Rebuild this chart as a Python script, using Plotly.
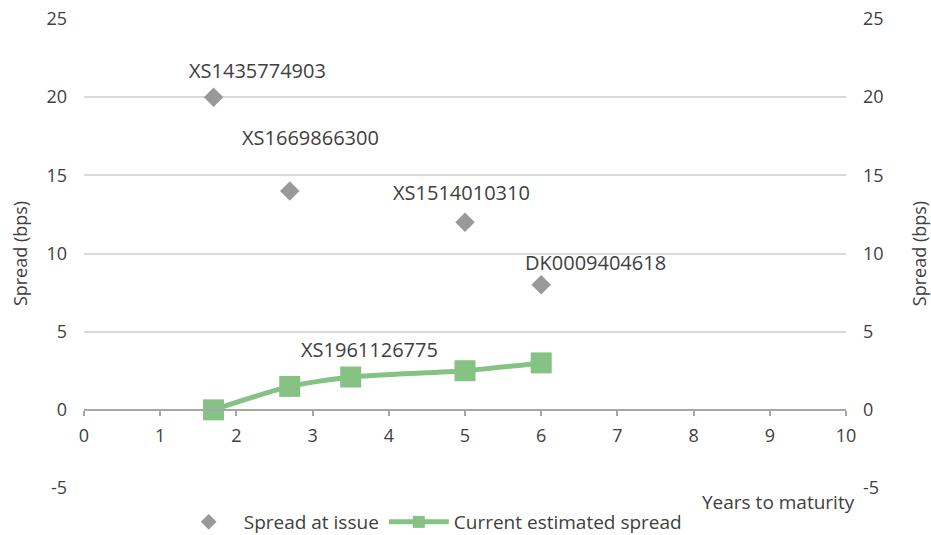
import plotly.graph_objects as go

# Data
issue_years = [1.7, 2.7, 5.0, 6.0]
issue_spread = [20, 14, 12, 8]
current_years = [1.7, 2.7, 3.5, 5.0, 6.0]
current_spread = [0, 1.5, 2.1, 2.5, 3.0]

label_text = ["XS1435774903", "XS1669866300", "XS1514010310", "DK0009404618", "XS1961126775"]
label_x = [2.28, 2.97, 4.96, 6.71, 3.75]
label_y = [21.7, 17.4, 13.9, 9.4, 3.84]

x_ticks = list(range(0, 11))
y_ticks = [-5, 0, 5, 10, 15, 20, 25]
y_tick_text = ["-5", "0", "5", "10", "15", "20", "25"]

FONT = "Open Sans"
TXT = "#404040"
FS = 18

fig = go.Figure()
fig.add_trace(go.Scatter(
    x=issue_years, y=issue_spread, mode="markers", name="Spread at issue",
    marker=dict(symbol="diamond", size=15, color="#999999"),
))
fig.add_trace(go.Scatter(
    x=current_years, y=current_spread, mode="lines+markers", name="Current estimated spread",
    line=dict(color="#85c283", width=5, shape="spline", smoothing=0.6),
    marker=dict(symbol="square", size=21, color="#85c283"),
))
# invisible trace for right axis
fig.add_trace(go.Scatter(x=[0], y=[0], yaxis="y2", mode="markers",
                         marker=dict(opacity=0), showlegend=False, hoverinfo="skip"))

for t, x, y in zip(label_text, label_x, label_y):
    fig.add_annotation(x=x, y=y, text=t, showarrow=False,
                       font=dict(family=FONT, size=20, color=TXT))

fig.add_annotation(xref="paper", yref="paper", x=1.014, y=0.002, xanchor="right", yanchor="top",
                   text="Years to maturity", showarrow=False,
                   font=dict(family=FONT, size=19, color=TXT))

yax = dict(range=[-5, 25], tickvals=y_ticks, ticktext=y_tick_text, showgrid=True,
           gridcolor="#d9d9d9", gridwidth=1.5,
           zeroline=False, showline=False, ticks="", ticklabelstandoff=16,
           title=dict(text="Spread (bps)", standoff=14,
                      font=dict(family=FONT, size=FS, color=TXT)),
           tickfont=dict(family=FONT, size=FS, color=TXT), fixedrange=True)

yax2 = dict(yax, overlaying="y", side="right", showgrid=False,
            title=dict(text="Spread (bps)", standoff=30,
                       font=dict(family=FONT, size=FS, color=TXT)))

fig.update_layout(
    width=931, height=535,
    margin=dict(l=84, r=85, t=19, b=47, autoexpand=False),
    paper_bgcolor="white", plot_bgcolor="white",
    font=dict(family=FONT, size=FS, color=TXT),
    xaxis=dict(range=[0, 10], tickvals=x_ticks, anchor="free", position=5/30,
               showline=True, linecolor="#a6a6a6", linewidth=1.5,
               ticks="outside", ticklen=5, tickcolor="#a6a6a6", tickwidth=1.5,
               ticklabelstandoff=5,
               showgrid=False, zeroline=False,
               tickfont=dict(family=FONT, size=FS, color=TXT)),
    yaxis=yax,
    yaxis2=yax2,
    legend=dict(orientation="h", x=0.455, xanchor="center", y=-0.032, yanchor="top",
                font=dict(family=FONT, size=19, color=TXT), itemwidth=60,
                itemsizing="constant", traceorder="normal"),
    showlegend=True,
)

fig.write_html("out.html")
